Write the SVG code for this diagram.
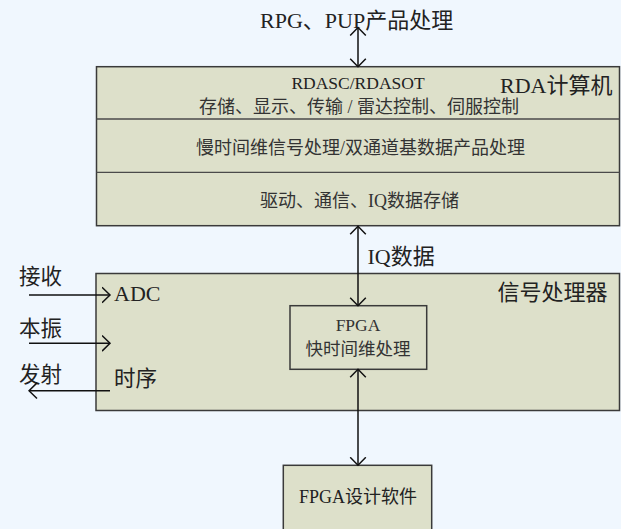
<svg xmlns="http://www.w3.org/2000/svg" width="621" height="529" viewBox="0 0 621 529">
<style>
.box{fill:#DDE0CA;stroke:#3a3a3a;stroke-width:1.5}
.div{stroke:#4a4a4a;stroke-width:1.3}
.t{font-family:"Liberation Serif","Noto Sans CJK SC",serif;fill:#222}
.ti{font-family:"Liberation Serif","Noto Sans CJK SC",serif;fill:#333}
.c{stroke:#111;stroke-width:1.5;fill:none}
</style>
<defs>
<marker id="ah" markerUnits="userSpaceOnUse" viewBox="0 0 10 18" refX="8.5" refY="9" markerWidth="10" markerHeight="18" orient="auto-start-reverse">
<path d="M0.5,1.2 L8.5,9 L0.5,16.8" fill="none" stroke="#111" stroke-width="1.5"/>
</marker>
</defs>
<rect x="0" y="0" width="621" height="529" fill="#F0F7FE"/>
<g id="top-label">
<text class="t" x="260" y="28" font-size="22">RPG、PUP产品处理</text>
</g>
<g id="rda">
<rect class="box" x="96.5" y="66.7" width="523" height="159"/>
<line class="div" x1="96.5" y1="119" x2="619.5" y2="119"/>
<line class="div" x1="96.5" y1="172.3" x2="619.5" y2="172.3"/>
<text class="t" x="358" y="89" font-size="17.5" text-anchor="middle">RDASC/RDASOT</text>
<text class="ti" x="199" y="112.5" font-size="18">存储、显示、传输 / 雷达控制、伺服控制</text>
<text class="t" x="500" y="93" font-size="22">RDA计算机</text>
<text class="ti" x="196" y="153.5" font-size="18">慢时间维信号处理/双通道基数据产品处理</text>
<text class="ti" x="260" y="207" font-size="18">驱动、通信、IQ数据存储</text>
</g>
<g id="iq-label">
<text class="t" x="367.5" y="264" font-size="22">IQ数据</text>
</g>
<g id="signal">
<rect class="box" x="96" y="273.5" width="523.5" height="137"/>
<text class="t" x="497.5" y="300" font-size="22">信号处理器</text>
<text class="t" x="114" y="300.5" font-size="22">ADC</text>
<text class="t" x="114" y="385.5" font-size="21.5">时序</text>
</g>
<g id="fpga">
<rect class="box" x="290" y="305.7" width="136.7" height="63.6"/>
<text class="ti" x="358" y="331" font-size="17.5" text-anchor="middle">FPGA</text>
<text class="ti" x="358" y="355" font-size="17.5" text-anchor="middle">快时间维处理</text>
</g>
<g id="fpga-sw">
<rect class="box" x="283.3" y="465.3" width="148.4" height="70"/>
<text class="t" x="299" y="502.5" font-size="18">FPGA设计软件</text>
</g>
<g id="left-labels">
<text class="t" x="19" y="283.5" font-size="21.5">接收</text>
<text class="t" x="19" y="335.5" font-size="21.5">本振</text>
<text class="t" x="19" y="381.5" font-size="21.5">发射</text>
</g>
<g id="connectors">
<line class="c" x1="358" y1="27.5" x2="358" y2="66.7" marker-start="url(#ah)" marker-end="url(#ah)"/>
<line class="c" x1="358" y1="226.2" x2="358" y2="305.7" marker-start="url(#ah)" marker-end="url(#ah)"/>
<line class="c" x1="358" y1="369.3" x2="358" y2="465.3" marker-start="url(#ah)" marker-end="url(#ah)"/>
<line class="c" x1="29" y1="295" x2="110" y2="295" marker-end="url(#ah)"/>
<line class="c" x1="29" y1="343.3" x2="110" y2="343.3" marker-end="url(#ah)"/>
<line class="c" x1="110" y1="390.7" x2="29" y2="390.7" marker-end="url(#ah)"/>
</g>
</svg>
